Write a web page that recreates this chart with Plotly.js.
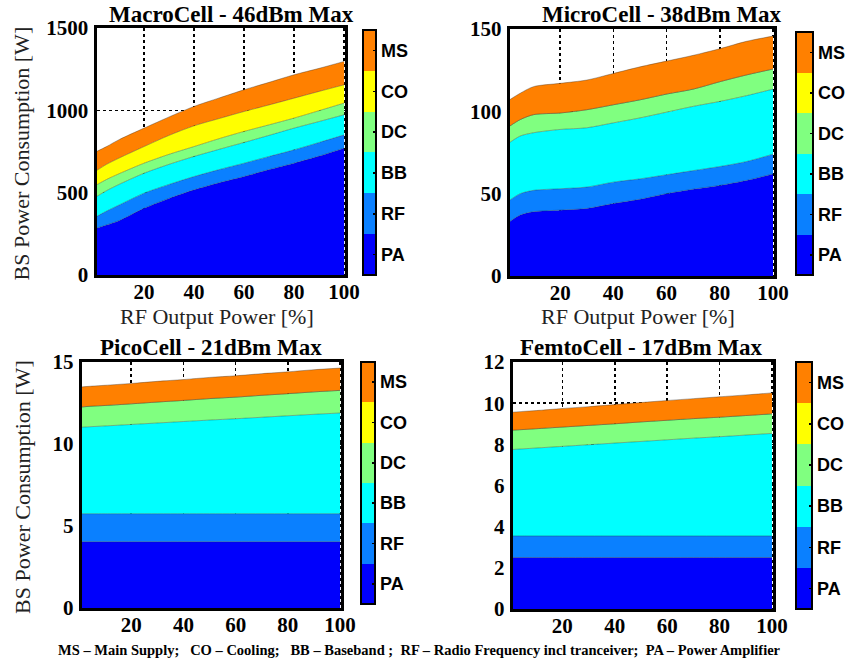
<!DOCTYPE html>
<html>
<head>
<meta charset="utf-8">
<script src="https://cdn.plot.ly/plotly-3.0.1.min.js"></script>
<style>html,body{margin:0;padding:0;background:#fff;}#chart{width:851px;height:662px;}</style>
</head>
<body>
<div id="chart"></div>
<script>
// ---- data ----
const components = ['PA', 'RF', 'BB', 'DC', 'CO', 'MS'];
const rfOutput = [1, 5, 10, 20, 30, 40, 50, 60, 70, 80, 90, 100];

const macroTitle = 'MacroCell - 46dBm Max';
const macroPA = [284, 304, 330, 405, 465, 517, 560, 598, 640, 679, 722, 770];
const macroRF = [71, 84, 95, 92, 85, 81, 80, 81, 80, 81, 83, 81];
const macroBB = [121, 124, 125, 121, 122, 122, 123, 126, 128, 132, 127, 122];
const macroDC = [71, 68, 65, 61, 61, 60, 65, 67, 64, 61, 66, 71];
const macroCO = [87, 92, 95, 101, 115, 126, 122, 121, 121, 121, 117, 111];
const macroMS = [116, 108, 112, 112, 112, 118, 125, 132, 137, 142, 140, 142];

const microTitle = 'MicroCell - 38dBm Max';
const microPA = [33, 37, 39, 40, 41, 44, 46.6, 50, 52.7, 55, 58, 62];
const microRF = [13, 13, 13, 13, 13, 13, 12.4, 11.5, 11.3, 11.5, 11.5, 12];
const microBB = [35, 35, 35, 36, 36, 36, 37, 38, 39, 39.5, 40, 39.5];
const microDC = [10, 10, 11, 10, 11, 11, 11, 11, 10.5, 12, 12.6, 12.2];
const microCO = [0, 0, 0, 0, 0, 0, 0, 0, 0, 0, 0, 0];
const microMS = [16, 16, 17, 18, 18, 19, 20, 20, 20.5, 20, 20.4, 20];

const picoTitle = 'PicoCell - 21dBm Max';
const picoPA = [4.04, 4.04, 4.04, 4.04, 4.04, 4.04, 4.04, 4.04, 4.04, 4.04, 4.04, 4.04];
const picoRF = [1.71, 1.71, 1.71, 1.71, 1.71, 1.71, 1.71, 1.71, 1.71, 1.71, 1.71, 1.71];
const picoBB = [5.27, 5.31, 5.35, 5.44, 5.53, 5.62, 5.71, 5.79, 5.88, 5.97, 6.06, 6.14];
const picoDC = [1.24, 1.25, 1.25, 1.26, 1.28, 1.29, 1.31, 1.32, 1.34, 1.35, 1.37, 1.38];
const picoCO = [0, 0, 0, 0, 0, 0, 0, 0, 0, 0, 0, 0];
const picoMS = [1.22, 1.22, 1.23, 1.24, 1.26, 1.27, 1.29, 1.30, 1.32, 1.33, 1.35, 1.36];

const femtoTitle = 'FemtoCell - 17dBm Max';
const femtoPA = [2.50, 2.50, 2.50, 2.50, 2.50, 2.50, 2.50, 2.50, 2.50, 2.50, 2.50, 2.50];
const femtoRF = [1.05, 1.05, 1.05, 1.05, 1.05, 1.05, 1.05, 1.05, 1.05, 1.05, 1.05, 1.05];
const femtoBB = [4.20, 4.23, 4.27, 4.35, 4.43, 4.51, 4.59, 4.67, 4.75, 4.82, 4.90, 4.98];
const femtoDC = [0.94, 0.94, 0.94, 0.94, 0.94, 0.94, 0.95, 0.95, 0.95, 0.95, 0.95, 0.95];
const femtoCO = [0, 0, 0, 0, 0, 0, 0, 0, 0, 0, 0, 0];
const femtoMS = [0.87, 0.88, 0.88, 0.90, 0.91, 0.93, 0.94, 0.96, 0.97, 0.99, 1.00, 1.02];

const xTickVals = [20, 40, 60, 80, 100];
const macroYTicks = [0, 500, 1000, 1500];
const microYTicks = [0, 50, 100, 150];
const picoYTicks = [0, 5, 10, 15];
const femtoYTicks = [0, 2, 4, 6, 8, 10, 12];

const yAxisTitle = 'BS Power Consumption [W]';
const xAxisTitle = 'RF Output Power [%]';
const footnote = 'MS \u2013 Main Supply;&nbsp;&nbsp;&nbsp;CO \u2013 Cooling;&nbsp;&nbsp;&nbsp;BB \u2013 Baseband ;&nbsp;&nbsp;RF \u2013 Radio Frequency incl tranceiver;&nbsp;&nbsp;PA \u2013 Power Amplifier';

// ---- styling ----
const jet = ['#0000fc', '#0a80ff', '#00ffff', '#80ff80', '#ffff00', '#ff8000'];
const W = 851, H = 662;
const serif = 'Liberation Serif, Times New Roman, serif';
const sans = 'Liberation Sans, Arial, sans-serif';
const bold = v => '<b>' + v + '</b>';

const panels = [
  {title: macroTitle, series: [macroPA, macroRF, macroBB, macroDC, macroCO, macroMS], yticks: macroYTicks,
   box: [97, 347, 28, 275], cb: [365, 378, 30, 275], titleXY: [233, 14], ytitle: true, xtitle: true},
  {title: microTitle, series: [microPA, microRF, microBB, microDC, microCO, microMS], yticks: microYTicks,
   box: [512, 778, 29, 276], cb: [800, 817, 32, 275], titleXY: [665, 14], ytitle: false, xtitle: true},
  {title: picoTitle, series: [picoPA, picoRF, picoBB, picoDC, picoCO, picoMS], yticks: picoYTicks,
   box: [82, 343, 362, 608], cb: [363, 377, 362, 604], titleXY: [212, 347], ytitle: true, xtitle: false},
  {title: femtoTitle, series: [femtoPA, femtoRF, femtoBB, femtoDC, femtoCO, femtoMS], yticks: femtoYTicks,
   box: [515, 777, 362, 609], cb: [800, 816, 362, 609], titleXY: [645, 347], ytitle: false, xtitle: false}
];

const steps = [];
jet.forEach((c, i) => { steps.push([i / 6, c]); steps.push([(i + 1) / 6, c]); });

const data = [];
const layout = {
  width: W, height: H,
  margin: {l: 0, r: 0, t: 0, b: 0},
  paper_bgcolor: '#fff', plot_bgcolor: '#fff',
  showlegend: false,
  annotations: [],
  font: {family: serif, color: '#000'}
};

panels.forEach((p, k) => {
  const n = k === 0 ? '' : String(k + 1);
  const xa = 'x' + n, ya = 'y' + n;
  p.series.forEach((vals, i) => {
    data.push({
      type: 'scatter', mode: 'lines', x: rfOutput, y: vals,
      xaxis: xa, yaxis: ya, stackgroup: 'sg' + k,
      fillcolor: jet[i],
      line: {color: 'rgba(40,40,40,0.5)', width: 0.7, shape: 'spline', smoothing: 0.8},
      name: components[i], hoverinfo: 'x+y+name'
    });
  });
  const [x0, x1, y0, y1] = p.box;
  const ymax = p.yticks[p.yticks.length - 1];
  layout['xaxis' + n] = {
    domain: [x0 / W, x1 / W], anchor: ya, range: [1, 100.5],
    tickvals: xTickVals, ticktext: xTickVals.map(bold), ticks: '',
    showgrid: true, gridcolor: '#000', gridwidth: 1.5, griddash: 'dot',
    showline: true, mirror: true, linecolor: '#000', linewidth: 3, zeroline: false,
    tickfont: {family: serif, size: 21, color: '#000', weight: 700},
    ticklabelstandoff: -4,
    title: {text: ''},
    layer: 'above traces'
  };
  layout['yaxis' + n] = {
    domain: [1 - y1 / H, 1 - y0 / H], anchor: xa, range: [0, ymax],
    tickvals: p.yticks, ticktext: p.yticks.map(bold), ticks: '',
    showgrid: true, gridcolor: '#000', gridwidth: 1.5, griddash: 'dot',
    showline: true, mirror: true, linecolor: '#000', linewidth: 3, zeroline: false,
    tickfont: {family: serif, size: 21, color: '#000', weight: 700},
    ticklabelstandoff: 1,
    layer: 'above traces'
  };
  layout.annotations.push({
    text: bold(p.title), xref: 'paper', yref: 'paper', x: p.titleXY[0] / W, y: 1 - p.titleXY[1] / H,
    xanchor: 'center', yanchor: 'middle', showarrow: false,
    font: {family: serif, size: 23, color: '#000'}
  });
  if (p.xtitle) {
    layout.annotations.push({
      text: xAxisTitle, xref: 'paper', yref: 'paper',
      x: ((x0 + x1) / 2 - 4) / W, y: 1 - 316 / H,
      xanchor: 'center', yanchor: 'middle', showarrow: false,
      font: {family: serif, size: 22, color: '#222'}
    });
  }
  if (p.ytitle) {
    layout.annotations.push({
      text: yAxisTitle, xref: 'paper', yref: 'paper',
      x: 22 / W, y: 1 - ((y0 + y1) / 2 + 2) / H, textangle: -90,
      xanchor: 'center', yanchor: 'middle', showarrow: false,
      font: {family: serif, size: 22, color: '#222'}
    });
  }
  // colorbar
  const cax = 'coloraxis' + (k === 0 ? '' : String(k + 1));
  const [cx0, cx1, cy0, cy1] = p.cb;
  layout[cax] = {
    cmin: 0, cmax: 6, colorscale: steps, showscale: true,
    colorbar: {
      x: cx0 / W, xanchor: 'left', xpad: 0, ypad: 0,
      y: 1 - ((cy0 + cy1) / 2) / H, yanchor: 'middle',
      len: (cy1 - cy0) / H, lenmode: 'fraction',
      thickness: cx1 - cx0, thicknessmode: 'pixels',
      outlinewidth: 2, outlinecolor: '#000',
      tickvals: [0.5, 1.5, 2.5, 3.5, 4.5, 5.5], ticktext: components.map(bold),
      ticks: 'inside', ticklen: 4, tickwidth: 1.5, tickcolor: '#000',
      tickfont: {family: sans, size: 18, color: '#000'}
    }
  };
  data.push({
    type: 'scatter', mode: 'markers', x: [50], y: [0], xaxis: xa, yaxis: ya,
    marker: {color: [0], coloraxis: cax, size: 1, opacity: 0}, hoverinfo: 'skip', showlegend: false
  });
});

layout.annotations.push({
  text: bold(footnote), xref: 'paper', yref: 'paper', x: 421 / W, y: 1 - 650 / H,
  xanchor: 'center', yanchor: 'middle', showarrow: false,
  font: {family: serif, size: 14.5, color: '#000'}
});

Plotly.newPlot('chart', data, layout, {staticPlot: true, displayModeBar: false});
</script>
</body>
</html>
